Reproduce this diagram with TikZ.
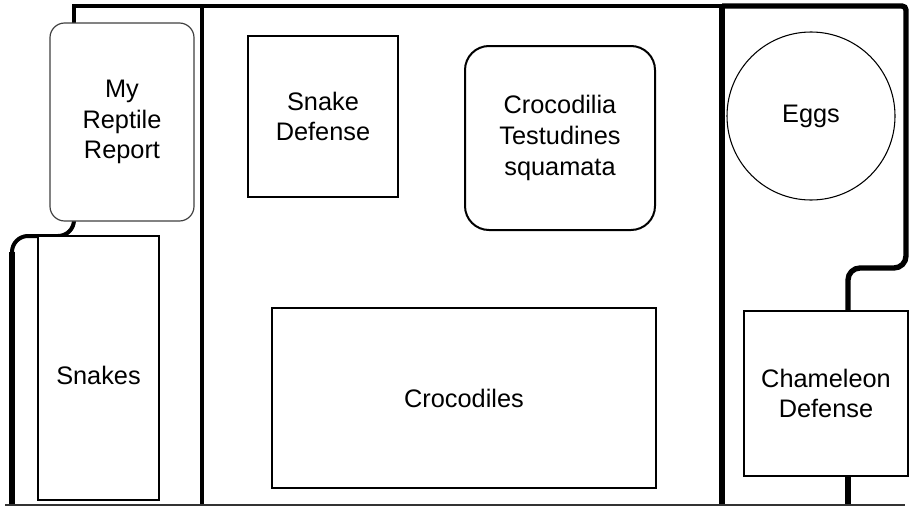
\documentclass[tikz,border=0pt]{standalone}
\usepackage{fontspec}
\setmainfont{Liberation Sans}
\begin{document}
\begin{tikzpicture}[x=0.75pt,y=-0.75pt,
  every node/.style={font=\fontsize{19pt}{23pt}\selectfont, align=center, inner sep=0pt},
  wall/.style={line width=3pt, line cap=butt},
  heavywall/.style={line width=4pt},
  sqbox/.style={draw, fill=white, line width=1.5pt},
  softbox/.style={draw=black!75, fill=white, line width=0.9pt, rounded corners=11pt},
  roundbox/.style={draw, fill=white, line width=1.5pt, rounded corners=18pt},
  eggshape/.style={draw, fill=white, line width=0.8pt, circle}]
\useasboundingbox (0,0) rectangle (910,507);
% walls
\draw[wall] (74,221) -- (74,6) -- (722,6);
\draw[wall, rounded corners=12pt] (74,218) -- (74,236) -- (12,236) -- (12,505);
\draw[line width=5pt] (12,252) -- (12,505);
\draw[wall] (202,6) -- (202,505);
\draw[heavywall] (722,6) -- (722,505);
\draw[heavywall] (722,6) [rounded corners=3pt] -- (906,6) [rounded corners=9pt] -- (906,268) -- (848,268) -- (848,314);
\draw[heavywall] (848,474) -- (848,505);
\draw[line width=1.2pt, black!80] (5,505) -- (905,505);
% boxes
\node[softbox, minimum width=108pt, minimum height=148.5pt] (report) at (122,122) {My\\Reptile\\Report};
\node[sqbox, minimum width=90.75pt, minimum height=198pt] (snakes) at (98.5,368) {\raisebox{-12.5pt}[0pt][0pt]{Snakes}};
\node[sqbox, minimum width=112.5pt, minimum height=120.75pt] (snakedef) at (323,116.5) {Snake\\Defense};
\node[roundbox, minimum width=142.5pt, minimum height=138pt] (orders) at (560,138) {Crocodilia\\Testudines\\squamata};
\node[sqbox, minimum width=288pt, minimum height=135pt] (crocs) at (464,398) {Crocodiles};
\node[eggshape, minimum size=126pt] (eggs) at (811,116) {Eggs};
\node[sqbox, minimum width=123pt, minimum height=123.75pt] (chameleon) at (826,393.5) {Chameleon\\Defense};
\end{tikzpicture}
\end{document}
